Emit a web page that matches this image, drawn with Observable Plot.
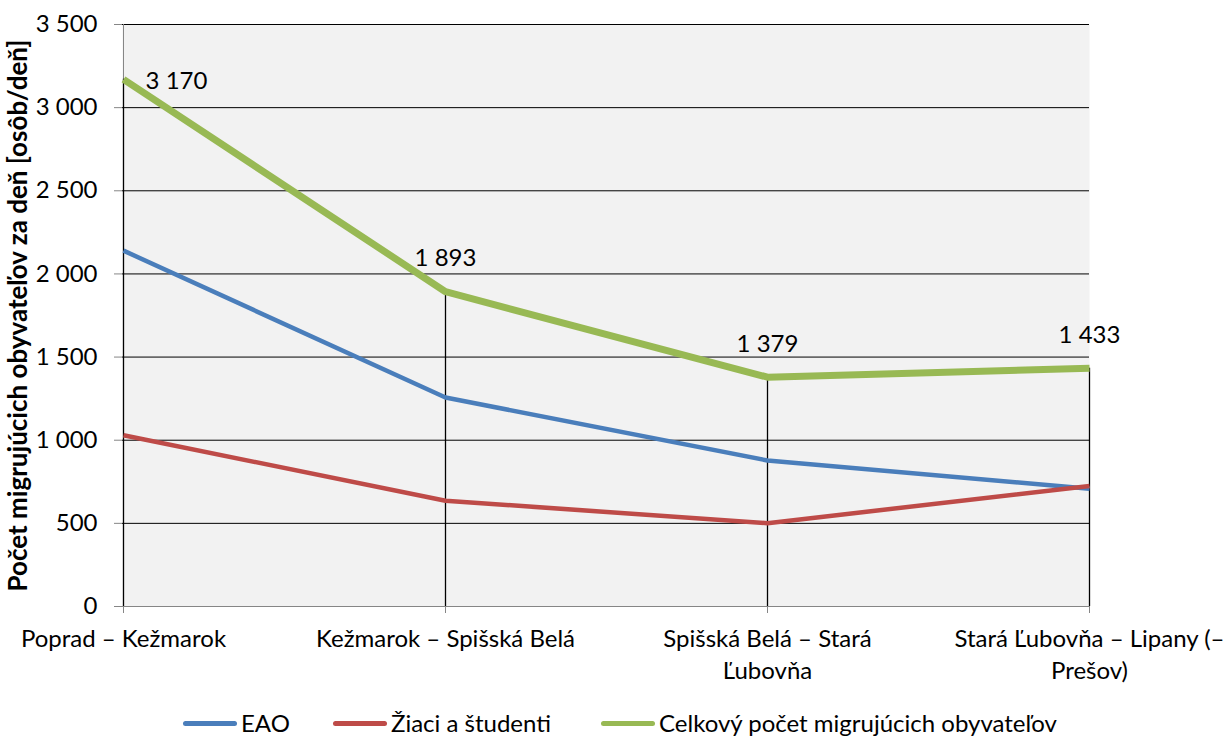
<!DOCTYPE html>
<html>
<head>
<meta charset="utf-8">
<script src="https://cdn.jsdelivr.net/npm/d3@7"></script>
<script src="https://cdn.jsdelivr.net/npm/@observablehq/plot@0.6"></script>
<style>
  body { margin: 0; background: #fff; font-family: Lato, "Open Sans", sans-serif; }
  #chart svg { display: block; }
  .legend { position: relative; height: 38px; font-size: 24px; color: #000; }
  .legend .item { position: absolute; top: 11px; display: flex; align-items: center; line-height: 1; }
  .legend .sw { display: inline-block; width: 54px; height: 5px; border-radius: 3px; margin-right: 4px; }
</style>
</head>
<body>
<div id="chart"></div>
<div class="legend" id="legend"></div>
<script>
// Úseky trate (kategórie osi x)
const segments = [
  "Poprad – Kežmarok",
  "Kežmarok – Spišská Belá",
  "Spišská Belá – Stará\nĽubovňa",
  "Stará Ľubovňa – Lipany (–\nPrešov)"
];
// Počty migrujúcich obyvateľov za deň
const eao = [2140, 1257, 878, 708];
const students = [1030, 636, 501, 725];
const total = [3170, 1893, 1379, 1433];

const seriesNames = ["EAO", "Žiaci a študenti", "Celkový počet migrujúcich obyvateľov"];
const seriesColors = ["#4a7ebb", "#be4b48", "#98b954"];
const yTicks = [0, 500, 1000, 1500, 2000, 2500, 3000, 3500];

const fmt = d => d3.format(",")(d).replace(/,/g, " ");

const rows = [];
[eao, students, total].forEach((vals, s) => {
  vals.forEach((v, i) => rows.push({series: seriesNames[s], segment: segments[i], value: v}));
});
const totals = segments.map((seg, i) => ({segment: seg, value: total[i], idx: i}));

const chart = Plot.plot({
  width: 1230,
  height: 700,
  marginLeft: 122,
  marginRight: 141,
  marginTop: 24,
  marginBottom: 94,
  style: {fontFamily: "Lato, 'Open Sans', sans-serif", fontSize: "24px", color: "#000", background: "#fff"},
  x: {type: "point", domain: segments, padding: 0, label: null},
  y: {domain: [0, 3500], label: null},
  color: {domain: seriesNames, range: seriesColors},
  marks: [
    Plot.frame({fill: "#f2f2f2", stroke: null}),
    Plot.gridY(yTicks, {stroke: "#000", strokeOpacity: 1, strokeWidth: 1}),
    Plot.ruleX([segments[0]], {y1: 0, y2: 3500, stroke: "#868686"}),
    Plot.ruleY([0], {stroke: "#868686"}),
    Plot.ruleX(totals, {x: "segment", y1: 0, y2: "value", stroke: "#000", strokeWidth: 1.3}),
    Plot.axisY(yTicks, {tickFormat: fmt, tickSize: 8, tickPadding: 17, stroke: "#868686", fontSize: 24}),
    Plot.axisX(segments, {tickSize: 7, tickPadding: 10, stroke: "#868686", fontSize: 24, lineHeight: 1.36}),
    Plot.line(rows, {
      x: "segment", y: "value", z: "series",
      stroke: d => d.series,
      strokeWidth: d => d.series === seriesNames[2] ? 7 : 4.5,
      strokeLinejoin: "miter", strokeLinecap: "butt"
    }),
    Plot.text(totals.filter(d => d.idx === 0), {x: "segment", y: "value", text: d => fmt(d.value), dx: 53, dy: 2, fontSize: 24}),
    Plot.text(totals.filter(d => d.idx > 0), {x: "segment", y: "value", text: d => fmt(d.value), dy: -33, fontSize: 24}),
    Plot.text(["Počet migrujúcich obyvateľov za deň [osôb/deň]"], {
      frameAnchor: "left", textAnchor: "middle", dx: -104, rotate: -90, fontWeight: "bold", fontSize: 26
    })
  ]
});
document.getElementById("chart").appendChild(chart);

// Legenda pod grafom
const legendPos = [183, 333, 601];
const legend = document.getElementById("legend");
seriesNames.forEach((name, i) => {
  const item = document.createElement("div");
  item.className = "item";
  item.style.left = legendPos[i] + "px";
  const sw = document.createElement("span");
  sw.className = "sw";
  sw.style.background = seriesColors[i];
  item.appendChild(sw);
  item.appendChild(document.createTextNode(name));
  legend.appendChild(item);
});
</script>
</body>
</html>
